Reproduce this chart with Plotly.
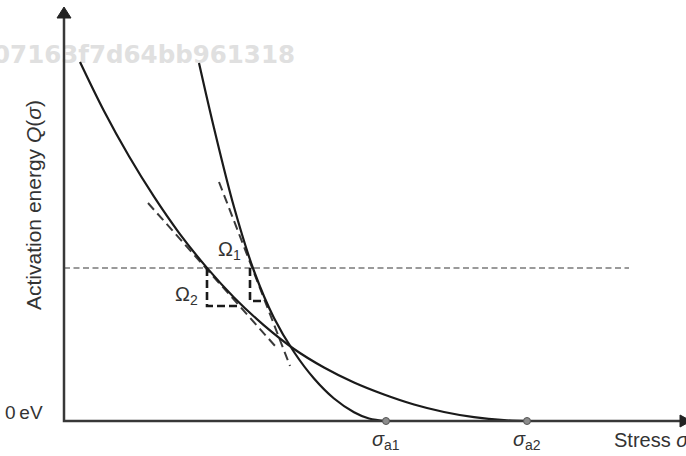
import plotly.graph_objects as go

# ---- data (arbitrary units: stress sigma, activation energy Q) ----
shallow_x = [0.16, 0.40, 0.65, 0.90, 1.15, 1.43, 1.70, 2.00, 2.30, 2.60, 2.90, 3.20, 3.50, 3.80, 4.10, 4.40, 4.63]
shallow_y = [3.59, 3.10, 2.647, 2.243, 1.882, 1.531, 1.236, 0.956, 0.72, 0.535, 0.385, 0.265, 0.165, 0.09, 0.038, 0.008, 0.0]

steep_x = [1.35, 1.50, 1.70, 1.90, 2.10, 2.30, 2.50, 2.70, 2.90, 3.05, 3.22]
steep_y = [3.58, 2.93, 2.14, 1.50, 1.03, 0.69, 0.425, 0.225, 0.088, 0.025, 0.0]

tangent_shallow_x = [0.84, 2.12]
tangent_shallow_y = [2.18, 0.74]
tangent_steep_x = [1.55, 2.26]
tangent_steep_y = [2.39, 0.55]

level_Q = 1.53
level_x_end = 5.65

omega2_x = [1.43, 1.43, 1.75]
omega2_y = [1.53, 1.15, 1.15]
omega1_x = [1.86, 1.86, 2.01]
omega1_y = [1.53, 1.20, 1.20]

sigma_a = [3.22, 4.63]
sigma_labels = ["<i>σ</i><sub>a1</sub>", "<i>σ</i><sub>a2</sub>"]

# axis geometry
x_range = [-0.64, 6.22]
y_range = [-0.35, 4.21]
y_axis_top = 4.14
x_axis_end = 6.27

FONT = "Liberation Sans, Arial, sans-serif"
TXT = "#333333"
FS = 20

fig = go.Figure()

# watermark
fig.add_trace(go.Scatter(x=[2.31], y=[3.645], mode="text", text=["07163f7d64bb961318"],
                         textposition="middle left", cliponaxis=False, hoverinfo="skip",
                         textfont=dict(family="DejaVu Sans", size=24.5, color="#e0e0e0", weight="bold")))

# horizontal level
fig.add_trace(go.Scatter(x=[0, level_x_end], y=[level_Q, level_Q], mode="lines",
                         line=dict(color="#7a7a7a", width=1.6, dash="6px,3.5px")))
# tangents
fig.add_trace(go.Scatter(x=tangent_shallow_x, y=tangent_shallow_y, mode="lines",
                         line=dict(color="#3a3a3a", width=2, dash="9px,5px")))
fig.add_trace(go.Scatter(x=tangent_steep_x, y=tangent_steep_y, mode="lines",
                         line=dict(color="#3a3a3a", width=2, dash="9px,5px")))
# omega boxes
fig.add_trace(go.Scatter(x=omega2_x, y=omega2_y, mode="lines",
                         line=dict(color="#1a1a1a", width=2.6, dash="8px,4px")))
fig.add_trace(go.Scatter(x=omega1_x, y=omega1_y, mode="lines",
                         line=dict(color="#1a1a1a", width=2.6, dash="8px,4px")))
# curves
fig.add_trace(go.Scatter(x=shallow_x, y=shallow_y, mode="lines",
                         line=dict(color="#1a1a1a", width=2.2, shape="spline", smoothing=1.0)))
fig.add_trace(go.Scatter(x=steep_x, y=steep_y, mode="lines",
                         line=dict(color="#1a1a1a", width=2.2, shape="spline", smoothing=1.0)))

# axes
fig.add_trace(go.Scatter(x=[0, 0, x_axis_end - 0.1], y=[y_axis_top - 0.1, 0, 0], mode="lines",
                         line=dict(color="#383838", width=2.5)))
fig.add_trace(go.Scatter(x=[-0.07, 0.07, 0, -0.07], y=[y_axis_top - 0.11, y_axis_top - 0.11, y_axis_top, y_axis_top - 0.11],
                         mode="lines", fill="toself", fillcolor="#222222", line=dict(color="#222222", width=1)))
fig.add_trace(go.Scatter(x=[x_axis_end - 0.11, x_axis_end - 0.11, x_axis_end, x_axis_end - 0.11], y=[-0.06, 0.06, 0, -0.06],
                         mode="lines", fill="toself", fillcolor="#222222", line=dict(color="#222222", width=1)))

# sigma_a markers
fig.add_trace(go.Scatter(x=sigma_a, y=[0, 0], mode="markers",
                         marker=dict(size=7, color="#8c8c8c", line=dict(color="#555555", width=1))))

annos = []
for sx, lab in zip(sigma_a, sigma_labels):
    annos.append(dict(x=sx, y=-0.19, text=lab, showarrow=False, font=dict(family=FONT, size=FS, color=TXT)))
annos.append(dict(x=5.48, y=-0.19, text="Stress <i>σ</i>", showarrow=False, xanchor="left",
                  font=dict(family=FONT, size=FS, color=TXT)))
annos.append(dict(x=-0.19, y=0.09, text="0\u2009eV", showarrow=False, xanchor="right",
                  font=dict(family=FONT, size=FS - 1, color=TXT)))
annos.append(dict(x=-0.31, y=2.16, text="Activation energy <i>Q</i>(<i>σ</i>)", showarrow=False, textangle=-90,
                  font=dict(family=FONT, size=21, color=TXT)))
annos.append(dict(x=1.65, y=1.71, text="Ω<sub>1</sub>", showarrow=False, font=dict(family=FONT, size=FS, color=TXT)))
annos.append(dict(x=1.22, y=1.26, text="Ω<sub>2</sub>", showarrow=False, font=dict(family=FONT, size=FS, color=TXT)))

fig.update_layout(
    width=686, height=456, margin=dict(l=0, r=0, t=0, b=0),
    paper_bgcolor="white", plot_bgcolor="white", showlegend=False,
    xaxis=dict(range=x_range, visible=False, fixedrange=True),
    yaxis=dict(range=y_range, visible=False, fixedrange=True),
    annotations=annos,
)

fig.write_html("out.html")
